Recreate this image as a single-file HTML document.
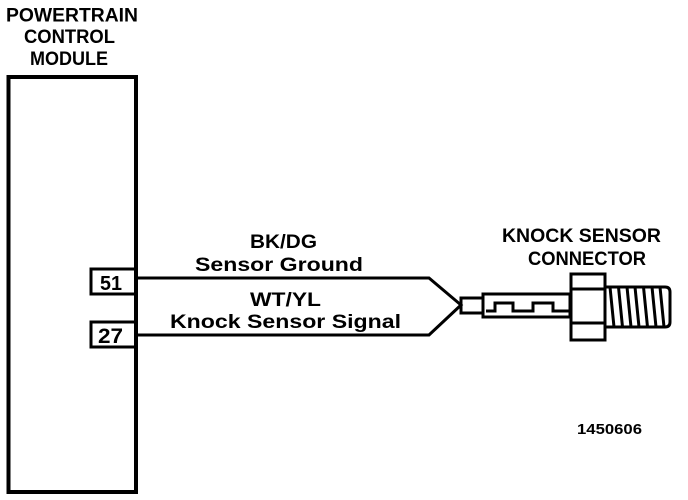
<!DOCTYPE html>
<html>
<head>
<meta charset="utf-8">
<style>
html,body{margin:0;padding:0;background:#fff;width:688px;height:500px;overflow:hidden}
svg{display:block}
text{font-family:"Liberation Sans",sans-serif;font-weight:bold;fill:#000}
</style>
</head>
<body>
<svg width="688" height="500" viewBox="0 0 688 500" xmlns="http://www.w3.org/2000/svg">
<g fill="none" stroke="#000" stroke-linejoin="miter">
  <rect x="8.5" y="77" width="127.5" height="415" stroke-width="4"/>
  <rect x="91" y="269" width="45" height="25" stroke-width="3"/>
  <rect x="91" y="322" width="45" height="25" stroke-width="3"/>
  <path d="M136 278H429L461 305L429 335H136" stroke-width="3"/>
  <rect x="461" y="298" width="22" height="15" stroke-width="3"/>
  <rect x="483" y="294" width="87" height="23" stroke-width="3"/>
  <path d="M486 311H495V303H513V311H533V303H553V311H570" stroke-width="3"/>
  <rect x="571" y="274" width="34" height="66" stroke-width="3"/>
  <path d="M571 289H605M571 323H605" stroke-width="3"/>
  <path d="M605 287H665Q670 287 670 292V322Q670 327 665 327H605" stroke-width="3"/>
  <path d="M610 287L614 327M618.500 287L622.500 327M627 287L631 327M635 287L639 327M643.500 287L647.500 327M652 287L656 327M660 287L664 327" stroke-width="3"/>
</g>
<text x="6" y="21.500" font-size="19" textLength="132" lengthAdjust="spacingAndGlyphs">POWERTRAIN</text>
<text x="24" y="43" font-size="19" textLength="91" lengthAdjust="spacingAndGlyphs">CONTROL</text>
<text x="30" y="65" font-size="19" textLength="78" lengthAdjust="spacingAndGlyphs">MODULE</text>
<text x="100" y="290" font-size="20" textLength="22" lengthAdjust="spacingAndGlyphs">51</text>
<text x="98" y="343" font-size="21" textLength="25" lengthAdjust="spacingAndGlyphs">27</text>
<text x="250" y="248" font-size="19" textLength="67" lengthAdjust="spacingAndGlyphs">BK/DG</text>
<text x="195" y="271" font-size="19" textLength="168" lengthAdjust="spacingAndGlyphs">Sensor Ground</text>
<text x="250" y="306" font-size="19" textLength="71" lengthAdjust="spacingAndGlyphs">WT/YL</text>
<text x="170" y="328" font-size="19" textLength="231" lengthAdjust="spacingAndGlyphs">Knock Sensor Signal</text>
<text x="502" y="242" font-size="19" textLength="159" lengthAdjust="spacingAndGlyphs">KNOCK SENSOR</text>
<text x="528" y="265" font-size="19" textLength="118" lengthAdjust="spacingAndGlyphs">CONNECTOR</text>
<text x="577" y="434" font-size="15" textLength="65" lengthAdjust="spacingAndGlyphs">1450606</text>
</svg>
</body>
</html>
